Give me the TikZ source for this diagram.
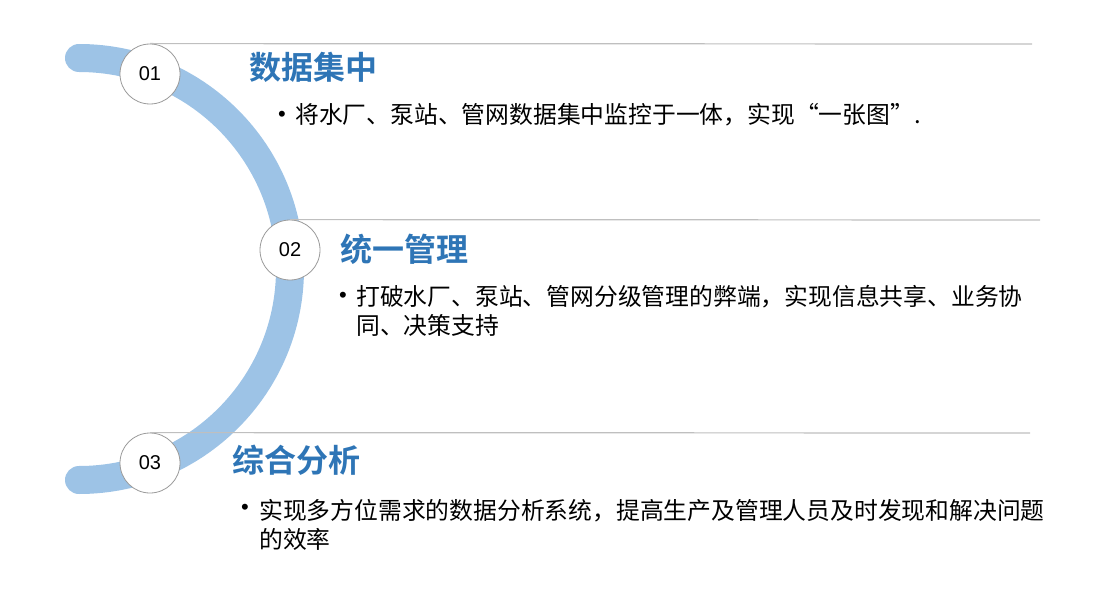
\documentclass[tikz,border=0pt]{standalone}
\usepackage{fontspec}
\setmainfont{Noto Sans CJK SC}[BoldFont={Noto Sans CJK SC Bold}]
\newfontfamily\numfont{Liberation Sans}
\definecolor{arcblue}{HTML}{9DC3E6}
\definecolor{titleblue}{HTML}{2E75B6}
\definecolor{rulegray}{HTML}{BFBFBF}
\definecolor{ringgray}{HTML}{9A9A9A}

\begin{document}
\begin{tikzpicture}[y=1pt, x=1pt, yscale=-1,
    band/.style={draw=arcblue, line width=28pt, line cap=round},
    rule/.style={draw=rulegray, line width=1.2pt},
    badge/.style={circle, draw=ringgray, fill=white, line width=0.8pt, minimum size=60pt, inner sep=0pt, font=\numfont\fontsize{20}{24}\selectfont},
    heading/.style={anchor=west, inner sep=0pt, text=titleblue, font=\bfseries\fontsize{32}{38}\selectfont},
    bulletmark/.style={inner sep=0pt, font=\numfont\fontsize{22}{29}\selectfont},
    body/.style={anchor=north west, inner sep=0pt, align=left, font=\fontsize{23.8}{29}\selectfont}]
  \useasboundingbox (0,0) rectangle (1098,599);
  \begin{scope}[]% arc
    % band
    \path[band] (79,58) arc[start angle=-90, end angle=90, radius=211];
  \end{scope}

  \begin{scope}[]% steps
    \coordinate (r1) at (1032,44) ;
    \coordinate (r2) at (1040,220) ;
    \coordinate (r3) at (1030,433) ;

    \node[badge] (c1) at (150,74) {01};
    \node[badge] (c2) at (290,250) {02};
    \node[badge] (c3) at (150,463) {03};

    \draw[rule] (c1.north) -- (r1);
    \draw[rule] (c2.north) -- (r2);
    \draw[rule] (c3.north) -- (r3);

    % step 01
    \node[heading] (h1) at (249,67) {数据集中};
    \node[bulletmark] (b1) at (282,116) {•};
    \node[body] (t1) at (295,103) {将水厂、泵站、管网数据集中监控于一体，实现“一张图”.};

    % step 02
    \node[heading] (h2) at (340,249) {统一管理};
    \node[bulletmark] (b2) at (343,297) {•};
    \node[body] (t2) at (356,285) {打破水厂、泵站、管网分级管理的弊端，实现信息共享、业务协\\同、决策支持};

    % step 03
    \node[heading] (h3) at (232,460) {综合分析};
    \node[bulletmark] (b3) at (245,509) {•};
    \node[body] (t3) at (259,499) {实现多方位需求的数据分析系统，提高生产及管理人员及时发现和解决问题\\的效率};
  \end{scope}
\end{tikzpicture}
\end{document}
